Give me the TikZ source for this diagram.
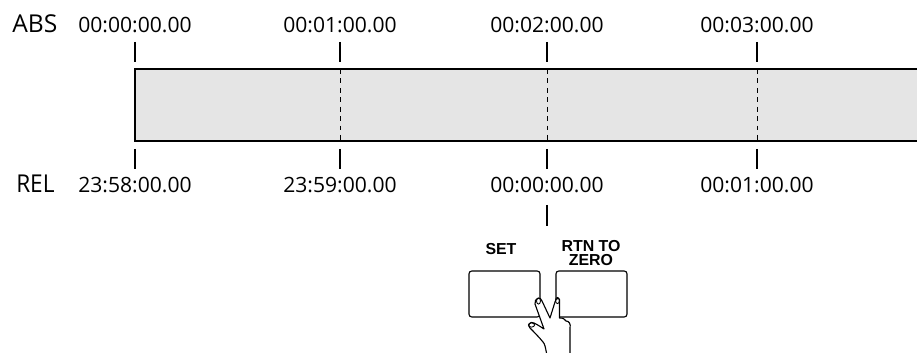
\documentclass[tikz,border=0pt]{standalone}
\usepackage{fontspec}
\setmainfont{Open Sans}
\newfontfamily\keyfont{Liberation Sans}
\usetikzlibrary{positioning}
\usetikzlibrary{calc}

\begin{document}
\begin{tikzpicture}[x=0.025cm, y=-0.025cm,
  stamp/.style={font=\fontsize{15}{17}\selectfont, inner sep=0pt, anchor=base},
  rowname/.style={font=\fontsize{17.5}{19}\selectfont, inner sep=0pt, anchor=base west},
  tick/.style={line width=0.9pt},
  minute/.style={line width=0.6pt, dash pattern=on 3.5pt off 3.2pt},
  keybox/.style={draw, line width=0.8pt, rounded corners=2pt, minimum width=1.775cm, minimum height=1.15cm, inner sep=0pt},
  keylabel/.style={font=\keyfont\bfseries\fontsize{11.3}{9.8}\selectfont, align=center, inner sep=0pt}]

 \useasboundingbox (0,0) rectangle (917,353);

 %tape
 \fill[gray!20] (135,69) rectangle (917,141);
 \foreach \x in {340, 547, 757} {
         \draw[minute] (\x,69) -- (\x,141);
 }
 \draw[line width=1.5pt] (917,69) -- (135,69) -- (135,141) -- (917,141);

 %absolute time
 \node[rowname] (abs) at (12,33) {ABS};
 \foreach \i/\x/\name in {0/135/00:00:00.00, 1/340/00:01:00.00, 2/547/00:02:00.00, 3/757/00:03:00.00} {
         \node[stamp] (abs\i) at (\x,33) {\name};
         \draw[tick] (\x,42) -- (\x,62);
 }

 %relative time
 \node[rowname, xscale=0.92] (rel) at (16,193) {REL};
 \foreach \i/\x/\name in {0/135/23:58:00.00, 1/340/23:59:00.00, 2/547/00:00:00.00, 3/757/00:01:00.00} {
         \node[stamp] (rel\i) at (\x,193) {\name};
         \draw[tick] (\x,149) -- (\x,169);
 }
 \draw[tick] (547,205) -- (547,226);

 %keys
 \node[keybox] (setkey) at (504.5,294) {};
 \node[keybox] (rtzkey) at (591.5,294) {};
 \node[keylabel] (setlabel) at (501,249) {SET};
 \node[keylabel] (rtzlabel) at (591,253) {RTN TO\\ZERO};

 %hand
 \draw[fill=white, line width=0.8pt, line join=round]
   (546.5,353) .. controls (545.5,348) and (545,344) .. (543,342)
   .. controls (539,337) and (533,331) .. (530,328)
   .. controls (527,325) and (530,321) .. (534,323)
   .. controls (538,325) and (541,327) .. (544,329)
   -- (535,304) .. controls (534,298) and (541,296) .. (542,301)
   -- (550,318) -- (555,302) .. controls (556,297) and (561,297) .. (559.5,303)
   -- (559.5,318) .. controls (563,318) and (565,319) .. (566,321)
   .. controls (569,321) and (571,324) .. (570,328)
   -- (570,353);
 \draw[line width=0.6pt] (538.5,301) ellipse [x radius=1.4pt, y radius=2.2pt];
 \draw[line width=0.6pt] (557.5,300.5) ellipse [x radius=1.4pt, y radius=2.2pt];
 \draw[line width=0.6pt] (531.5,325) ellipse [x radius=2.2pt, y radius=1.5pt];

\end{tikzpicture}
\end{document}
